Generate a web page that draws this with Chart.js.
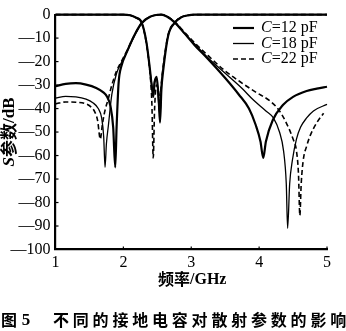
<!DOCTYPE html>
<html><head><meta charset="utf-8">
<script src="https://cdn.jsdelivr.net/npm/chart.js@4/dist/chart.umd.min.js"></script>
<style>html,body{margin:0;padding:0;background:#fff}#wrap{width:346px;height:331px}</style>
</head><body><div id="wrap"><canvas id="c" width="346" height="331"></canvas></div>
<script>
// ---- data (GHz / dB) ----
const seriesLabels = ["C=12 pF", "C=18 pF", "C=22 pF"];
const xTicks = [1, 2, 3, 4, 5];
const yTicks = [0, -10, -20, -30, -40, -50, -60, -70, -80, -90, -100];

// S21 curves
const f21_12 = [1.0,1.15,1.3,1.45,1.6,1.7,1.76,1.81,1.85,1.88,1.9,1.93,1.97,2.05,2.15,2.27,2.4,2.5,2.56,2.64,2.76,2.9,3.05,3.25,3.5,3.7,3.85,3.95,4.02,4.06,4.1,4.2,4.35,4.5,4.7,4.85,5.0];
const s21_12 = [-30.5,-29.5,-29.2,-29.8,-31.2,-33,-35,-39,-48,-65,-48,-29,-22,-16,-9.5,-3.6,-0.8,-0.1,0,-0.8,-3.4,-8,-13,-19,-27,-34,-40,-47,-54,-61,-54,-45,-38.5,-35,-32.5,-31.5,-30.7];

const f21_18 = [1.0,1.15,1.3,1.45,1.55,1.63,1.68,1.71,1.73,1.75,1.78,1.83,1.9,1.97,2.05,2.15,2.27,2.4,2.5,2.56,2.64,2.76,2.9,3.05,3.25,3.5,3.75,3.92,4.1,4.21,4.3,4.36,4.4,4.42,4.45,4.49,4.55,4.61,4.7,4.8,5.0];
const s21_18 = [-35.5,-34.8,-35,-36,-37.5,-40,-44,-52,-65,-55,-47,-34,-25,-20.5,-16,-9.8,-3.7,-0.9,-0.1,0,-0.8,-3.4,-8,-12.5,-18.5,-25,-31.5,-36.5,-41,-44,-50,-58,-72,-91,-72,-62,-53,-48,-44,-41,-38.2];

const f21_22 = [1.0,1.15,1.3,1.45,1.53,1.58,1.62,1.66,1.69,1.72,1.78,1.83,1.9,1.97,2.05,2.15,2.27,2.4,2.5,2.56,2.64,2.76,2.9,3.05,3.25,3.5,3.72,3.95,4.17,4.3,4.41,4.5,4.55,4.58,4.6,4.62,4.65,4.7,4.76,4.85,4.95];
const s21_22 = [-38,-37.2,-37.3,-38,-39.5,-41.5,-45,-53,-47,-42,-35.6,-30,-24,-20,-15.5,-9.5,-3.5,-0.8,-0.1,0,-0.7,-3.2,-7.5,-12,-17.5,-24,-28.6,-33,-37,-41,-46.7,-53,-58,-68,-85.5,-72,-62,-56,-51,-46,-42];

// S11 curves
const f11 = [1.0,2.0,2.1,2.18,2.27,2.34,2.39,2.42,2.44,2.46,2.49,2.52,2.54,2.56,2.59,2.66,2.76,2.85,2.95,3.05,5.0];
const s11_12 = [0,0,-0.3,-1.2,-3.4,-11.8,-23,-31,-35,-29,-26.5,-36,-46,-32,-23,-9,-3.4,-1.2,-0.3,0,0];
const s11_18 = [0,0,-0.3,-1.2,-3.5,-12,-23.5,-30,-33,-28,-27,-38,-43,-30,-22,-8.8,-3.3,-1.1,-0.3,0,0];
const s11_22 = [0,0,-0.3,-1.3,-3.6,-12.5,-24,-38,-61,-40,-30,-33,-36,-29,-21,-8.5,-3.2,-1.1,-0.3,0,0];

const pts = (xs, ys) => xs.map((x, i) => ({x: x, y: ys[i]}));

const styles = [
  {w: 2.2, dash: []},
  {w: 1.3, dash: []},
  {w: 1.6, dash: [5, 3]}
];
const pairs = [
  [f21_12, s21_12, 0], [f21_18, s21_18, 1], [f21_22, s21_22, 2],
  [f11, s11_12, 0], [f11, s11_18, 1], [f11, s11_22, 2]
];
const datasets = pairs.map(p => ({
  label: seriesLabels[p[2]],
  data: pts(p[0], p[1]),
  showLine: true,
  borderColor: '#000',
  borderWidth: styles[p[2]].w,
  borderDash: styles[p[2]].dash,
  pointRadius: 0,
  cubicInterpolationMode: 'monotone',
  clip: 4
}));

const SERIF = '"Liberation Serif", "Times New Roman", serif';
const CJK = '"Noto Sans CJK SC", sans-serif';

const extras = {
  id: 'extras',
  afterDraw(chart) {
    const ctx = chart.ctx;
    const ca = chart.chartArea;
    const xs = chart.scales.x, ys = chart.scales.y;
    ctx.save();
    ctx.fillStyle = '#000';
    ctx.strokeStyle = '#000';
    // inward ticks
    ctx.lineWidth = 1.2;
    yTicks.forEach(v => {
      if (v === 0 || v === -100) return;
      const y = ys.getPixelForValue(v);
      ctx.beginPath(); ctx.moveTo(ca.left, y); ctx.lineTo(ca.left + 3, y); ctx.stroke();
    });
    xTicks.forEach(v => {
      if (v === 1) return;
      const x = xs.getPixelForValue(v);
      ctx.beginPath(); ctx.moveTo(x, ca.bottom); ctx.lineTo(x, ca.bottom - 3); ctx.stroke();
    });
    // legend
    const lx0 = 233, lx1 = 254, tx = 261;
    const rows = [28, 43.5, 59];
    ctx.textBaseline = 'middle';
    seriesLabels.forEach((lab, i) => {
      ctx.lineWidth = styles[i].w;
      ctx.setLineDash(styles[i].dash);
      ctx.beginPath(); ctx.moveTo(lx0, rows[i]); ctx.lineTo(lx1, rows[i]); ctx.stroke();
      ctx.setLineDash([]);
      let x = tx;
      ctx.font = 'italic 16px ' + SERIF;
      ctx.textAlign = 'left';
      ctx.fillText('C', x, rows[i]);
      x += ctx.measureText('C').width;
      ctx.font = '16px ' + SERIF;
      ctx.fillText(lab.slice(1), x, rows[i]);
    });
    // x title
    ctx.textBaseline = 'middle';
    ctx.textAlign = 'left';
    let x = 158;
    ctx.font = 'bold 16px ' + CJK;
    ctx.fillText('频率', x, 279);
    x += ctx.measureText('频率').width;
    ctx.font = 'bold 16px ' + SERIF;
    ctx.fillText('/GHz', x, 280);
    // y title (rotated)
    ctx.save();
    ctx.translate(9, 132);
    ctx.rotate(-Math.PI / 2);
    ctx.font = 'bold italic 17px ' + SERIF;
    const wS = ctx.measureText('S').width;
    ctx.font = 'bold 17px ' + CJK;
    const wC = ctx.measureText('参数').width;
    ctx.font = 'bold 17px ' + SERIF;
    const wD = ctx.measureText('/dB').width;
    let p = -(wS + wC + wD) / 2;
    ctx.font = 'bold italic 17px ' + SERIF;
    ctx.fillText('S', p, 1); p += wS;
    ctx.font = 'bold 17px ' + CJK;
    ctx.fillText('参数', p, 0); p += wC;
    ctx.font = 'bold 17px ' + SERIF;
    ctx.fillText('/dB', p, 1);
    ctx.restore();
    // caption
    ctx.font = 'bold 16px ' + CJK;
    ctx.textAlign = 'center';
    ctx.fillText('图', 9, 320);
    ctx.font = 'bold 17px ' + SERIF;
    ctx.fillText('5', 26, 321);
    ctx.font = 'bold 16px ' + CJK;
    const cap = '不同的接地电容对散射参数的影响';
    for (let i = 0; i < cap.length; i++) {
      ctx.fillText(cap[i], 61 + i * 19.8, 320);
    }
    ctx.restore();
  }
};

new Chart(document.getElementById('c'), {
  type: 'scatter',
  data: {datasets: datasets},
  options: {
    responsive: false,
    animation: false,
    devicePixelRatio: 1,
    layout: {padding: {left: 0, right: 19, top: 12, bottom: 0}},
    plugins: {legend: {display: false}, tooltip: {enabled: false}, title: {display: false}},
    scales: {
      x: {
        type: 'linear', min: 1, max: 5,
        afterBuildTicks: s => { s.ticks = xTicks.map(v => ({value: v})); },
        afterFit: s => { s.height = 81.5; },
        grid: {drawOnChartArea: false, drawTicks: false},
        border: {color: '#000', width: 2.2},
        ticks: {color: '#000', padding: 4, font: {family: SERIF, size: 16}, maxRotation: 0,
                callback: v => String(v)}
      },
      y: {
        type: 'linear', min: -100, max: 0,
        afterBuildTicks: s => { s.ticks = yTicks.map(v => ({value: v})); },
        afterFit: s => { s.width = 55.5; },
        grid: {drawOnChartArea: false, drawTicks: false},
        border: {color: '#000', width: 2.2},
        ticks: {color: '#000', padding: 5, font: {family: SERIF, size: 16},
                callback: v => (v < 0 ? '\u2014' + Math.abs(v) : String(v))}
      }
    }
  },
  plugins: [extras]
});
</script>
</body></html>
